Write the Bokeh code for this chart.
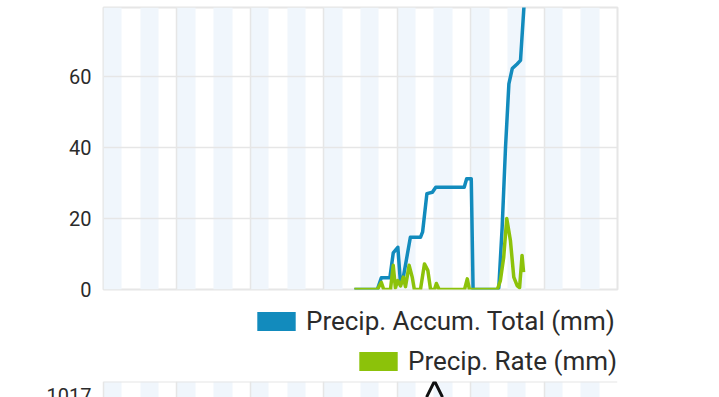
from bokeh.plotting import figure
from bokeh.models import Legend, LegendItem, FixedTicker, Range1d, Label
from bokeh.layouts import column, row
from bokeh.embed import file_html
from bokeh.resources import INLINE

# ---- data (x in hours from start of the 7-day window) ----
accum_hours = [82.0, 89.5, 90.8, 93.6, 94.7, 96.2, 97.1, 98.0, 100.3, 103.6, 104.3,
               105.7, 107.5, 108.6, 117.9, 118.7, 120.2, 120.8, 128.8, 129.2, 130.3,
               131.4, 132.5, 133.6, 135.2, 136.3, 137.6]
accum_total = [0.0, 0.0, 3.3, 3.3, 10.3, 11.9, 1.5, 3.5, 14.7, 14.7, 16.2,
               27.0, 27.4, 28.8, 28.8, 31.2, 31.2, 0.0, 0.0, 0.5, 17.5,
               40.0, 57.9, 62.2, 63.5, 64.5, 82.0]

rate_hours = [82.0, 89.5, 90.8, 91.6, 93.8, 94.7, 95.4, 96.2, 97.1, 98.0, 98.7,
              99.9, 100.9, 101.6, 103.6, 104.9, 106.0, 106.9, 108.2, 108.8, 109.7,
              118.0, 118.9, 119.6, 128.7, 129.7, 130.8, 131.8, 133.0, 134.1, 135.2,
              136.0, 136.8, 137.3]
precip_rate = [0.0, 0.0, 2.0, 0.0, 0.0, 6.8, 0.5, 2.5, 1.0, 3.5, 0.8,
               6.8, 3.5, 0.0, 0.0, 7.2, 5.4, 0.0, 0.0, 1.7, 0.0,
               0.0, 3.0, 0.0, 0.0, 2.4, 9.0, 20.0, 13.8, 3.5, 1.1,
               0.5, 9.6, 4.9]

band_starts = [0, 12, 24, 36, 48, 60, 72, 84, 96, 108, 120, 132, 144, 156]
band_ends = [6, 18, 30, 42, 54, 66, 78, 90, 102, 114, 126, 138, 150, 162]
day_ticks = [0, 24, 48, 72, 96, 120, 144, 168]
y_ticks = [0, 20, 40, 60]

pressure_hours = [105.6, 108.2, 110.8]
pressure = [1016.9, 1017.9, 1016.9]
pressure_tick = 1017
pressure_view = [1016.875, 1017.875]

legend_labels = ["Precip. Accum. Total (mm)", "Precip. Rate (mm)"]

BLUE = "#128bbd"
GREEN = "#8cc20a"
BAND = "#f0f6fc"
GRID = "#e6e6e6"
FONT = "Roboto"
TEXT = "#2b2b2b"
W = 715
LEFT = 103
RIGHT = 98
FRAME_W = W - LEFT - RIGHT
NAN = float("nan")


def style_yaxis(fig, ticks):
    ax = fig.yaxis[0]
    ax.ticker = FixedTicker(ticks=ticks)
    ax.axis_line_color = None
    ax.major_tick_line_color = None
    ax.minor_tick_line_color = None
    ax.major_tick_out = 0
    ax.major_tick_in = 0
    ax.major_label_standoff = 12
    ax.major_label_text_font = FONT
    ax.major_label_text_font_size = "20px"
    ax.major_label_text_color = TEXT


def style_xgrid(fig):
    fig.xaxis.visible = False
    fig.xgrid.ticker = FixedTicker(ticks=day_ticks)
    fig.xgrid.grid_line_color = GRID
    fig.xgrid.grid_line_width = 1.5
    fig.vstrip(x0=band_starts, x1=band_ends, fill_color=BAND, line_color=None, level="image")


# ---- main precipitation chart ----
p = figure(width=W, height=303, x_range=Range1d(day_ticks[0], day_ticks[-1]),
           y_range=Range1d(0, 79.4),
           output_backend="svg", toolbar_location=None,
           min_border_left=LEFT, min_border_right=RIGHT, min_border_top=7, min_border_bottom=14)
p.outline_line_color = GRID
p.outline_line_width = 2
style_xgrid(p)
p.ygrid.grid_line_color = GRID
p.ygrid.grid_line_width = 1.5
style_yaxis(p, y_ticks)

p.line(accum_hours, accum_total, line_color=BLUE, line_width=3.5, line_join="round")
p.line(rate_hours, precip_rate, line_color=GREEN, line_width=3.5, line_join="round")

# ---- legend strip ----
lg = figure(width=W, height=77, x_range=Range1d(0, 1), y_range=Range1d(0, 1),
            output_backend="svg", toolbar_location=None,
            min_border_left=LEFT, min_border_right=RIGHT, min_border_top=0, min_border_bottom=0)
lg.outline_line_color = None
lg.axis.visible = False
lg.grid.visible = False
# swatch renderers: one NaN row each, so nothing is drawn but the legend swatch
sw1 = lg.quad(left=[NAN], right=[NAN], top=[NAN], bottom=[NAN], fill_color=BLUE, line_color=None)
sw2 = lg.quad(left=[NAN], right=[NAN], top=[NAN], bottom=[NAN], fill_color=GREEN, line_color=None)


def make_legend(label, r, loc):
    return Legend(items=[LegendItem(label=label, renderers=[r])], location=loc,
                  orientation="vertical", glyph_width=48, glyph_height=24,
                  label_standoff=6, padding=0, margin=0, spacing=0,
                  border_line_color=None, background_fill_alpha=0,
                  label_text_font=FONT, label_text_font_size="26px",
                  label_text_color=TEXT)


lg.add_layout(make_legend(legend_labels[0], sw1, (149, 44)))
lg.add_layout(make_legend(legend_labels[1], sw2, (251, 4)))

# ---- top strip of the next (pressure) chart; its frame reaches the left edge
# so that its (cut-off) tick label can be shown ----
hours_per_px = (day_ticks[-1] - day_ticks[0]) / FRAME_W
p2 = figure(width=W, height=17,
            x_range=Range1d(day_ticks[0] - LEFT * hours_per_px, day_ticks[-1]),
            y_range=Range1d(*pressure_view),
            output_backend="svg", toolbar_location=None,
            min_border_left=0, min_border_right=RIGHT, min_border_top=1, min_border_bottom=0)
p2.outline_line_color = None
style_xgrid(p2)
p2.yaxis.visible = False
p2.ygrid.visible = False
p2.line([day_ticks[0], day_ticks[-1]], [pressure_view[1], pressure_view[1]],
        line_color=GRID, line_width=2)
p2.line(pressure_hours, pressure, line_color="#111111", line_width=3)
p2.add_layout(Label(x=LEFT - 12, x_units="screen", y=pressure_tick, y_units="data",
                    text=str(pressure_tick), text_align="right", text_baseline="middle",
                    text_font=FONT, text_font_size="20px", text_color=TEXT))

layout = column(column(p, lg, spacing=0), row(p2), spacing=0)
open("out.html", "w").write(file_html(layout, INLINE))
